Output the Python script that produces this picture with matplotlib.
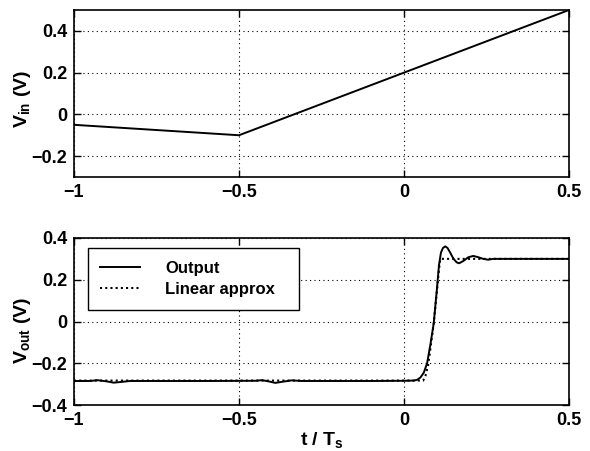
import matplotlib
matplotlib.use("Agg")
import matplotlib.pyplot as plt

plt.rcParams['font.family'] = ['Liberation Sans', 'DejaVu Sans']
plt.rcParams['font.weight'] = 'bold'
plt.rcParams['mathtext.fontset'] = 'custom'
plt.rcParams['mathtext.rm'] = 'Liberation Sans:bold'
plt.rcParams['mathtext.it'] = 'Liberation Sans:bold'
plt.rcParams['mathtext.bf'] = 'Liberation Sans:bold'
plt.rcParams['mathtext.default'] = 'rm'

# Input waveform (piecewise linear)
t_in = [-1.0, -0.5, 0.5]
v_in = [-0.05, -0.10, 0.50]

# Simulated output
t_out = [-1.00, -0.95, -0.93, -0.90, -0.88, -0.86, -0.83, -0.60, -0.45, -0.43,
         -0.41, -0.39, -0.37, -0.34, -0.31, -0.10, 0.000, 0.030, 0.040, 0.050,
         0.060, 0.070, 0.080, 0.090, 0.100, 0.106, 0.112, 0.118, 0.125, 0.132,
         0.140, 0.150, 0.160, 0.167, 0.180, 0.195, 0.210, 0.225, 0.240, 0.255,
         0.270, 0.500]
v_out = [-0.285, -0.285, -0.281, -0.287, -0.293, -0.290, -0.285, -0.285, -0.284, -0.281,
         -0.287, -0.294, -0.289, -0.282, -0.285, -0.285, -0.284, -0.283, -0.279, -0.268,
         -0.245, -0.200, -0.110, -0.010, 0.160, 0.270, 0.330, 0.352, 0.360, 0.352,
         0.330, 0.300, 0.283, 0.279, 0.290, 0.308, 0.314, 0.308, 0.300, 0.296,
         0.300, 0.300]

# Linear approximation
t_lin = [-1.0, 0.058, 0.065, 0.073, 0.080, 0.090, 0.100, 0.106, 0.110, 0.5]
v_lin = [-0.283, -0.283, -0.260, -0.210, -0.130, -0.010, 0.150, 0.250, 0.300, 0.300]

x_ticks = [-1, -0.5, 0, 0.5]
x_ticklabels = ['\u22121', '\u22120.5', '0', '0.5']
top_yticks = [-0.2, 0, 0.2, 0.4]
top_yticklabels = ['\u22120.2', '0', '0.2', '0.4']
bot_yticks = [-0.4, -0.2, 0, 0.2, 0.4]
bot_yticklabels = ['\u22120.4', '\u22120.2', '0', '0.2', '0.4']

fig = plt.figure(figsize=(5.90, 4.51), dpi=100)
ax1 = fig.add_axes([74/590, 1-177/451, 495/590, 167/451])
ax2 = fig.add_axes([74/590, 1-405/451, 495/590, 167/451])


def style(ax):
    ax.grid(True, color='black', linestyle=(0, (1, 3)), linewidth=0.8)
    ax.tick_params(direction='in', top=True, right=True, length=5,
                   width=1.0, labelsize=13, pad=5)
    for s in ax.spines.values():
        s.set_linewidth(1.2)
    ax.set_axisbelow(True)


ax1.plot(t_in, v_in, color='black', linewidth=1.4)
ax1.set_xlim(-1, 0.5)
ax1.set_ylim(-0.3, 0.5)
ax1.set_xticks(x_ticks)
ax1.set_xticklabels(x_ticklabels)
ax1.set_yticks(top_yticks)
ax1.set_yticklabels(top_yticklabels)
ax1.set_ylabel(r'V$_{\rm in}$ (V)', fontsize=14, fontweight='bold')
ax1.yaxis.set_label_coords(-0.082, 0.47)
style(ax1)

ax2.plot(t_out, v_out, color='black', linewidth=1.4, label='Output')
ax2.plot(t_lin, v_lin, color='black', linewidth=1.5, linestyle=(0, (1, 1.5)),
         label='Linear approx')
ax2.set_xlim(-1, 0.5)
ax2.set_ylim(-0.4, 0.4)
ax2.set_xticks(x_ticks)
ax2.set_xticklabels(x_ticklabels)
ax2.set_yticks(bot_yticks)
ax2.set_yticklabels(bot_yticklabels)
ax2.set_ylabel(r'V$_{\rm out}$ (V)', fontsize=14, fontweight='bold')
ax2.yaxis.set_label_coords(-0.082, 0.45)
ax2.set_xlabel(r't / T$_{\rm s}$', fontsize=14, fontweight='bold', labelpad=1)
style(ax2)

leg = ax2.legend(loc='upper left', bbox_to_anchor=(0.028, 0.0, 0.426, 0.94),
                 mode='expand', borderaxespad=0.0, fancybox=False, framealpha=1,
                 edgecolor='black', fontsize=12, handlelength=2.4,
                 handletextpad=1.5, borderpad=0.75, labelspacing=0.4)
leg.get_frame().set_linewidth(1.0)

fig.savefig('out.png', dpi=100)
